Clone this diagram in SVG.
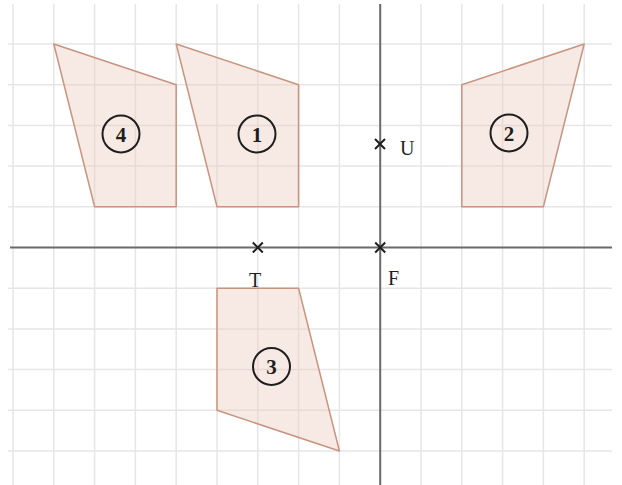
<svg xmlns="http://www.w3.org/2000/svg" width="622" height="485" viewBox="0 0 622 485">
<style>
.grid line{stroke:#e6e6e6;stroke-width:1.5}
.axis{stroke:#6a6a6a;stroke-width:2}
.shape{fill:#ebcbbf;fill-opacity:0.42;stroke:#c79580;stroke-width:1.5;stroke-linejoin:round}
.ring{fill:none;stroke:#1e1e1e;stroke-width:2}
.num{font-family:"Liberation Serif",serif;font-weight:bold;font-size:21px;fill:#1e1e1e;text-anchor:middle}
.lbl{font-family:"Liberation Serif",serif;font-size:20px;fill:#1e1e1e}
.cross{stroke:#1e1e1e;stroke-width:2}
</style>
<rect width="622" height="485" fill="#ffffff"/>
<g class="grid">
<line x1="13" y1="4" x2="13" y2="485"/>
<line x1="53.8" y1="4" x2="53.8" y2="485"/>
<line x1="94.6" y1="4" x2="94.6" y2="485"/>
<line x1="135.4" y1="4" x2="135.4" y2="485"/>
<line x1="176.2" y1="4" x2="176.2" y2="485"/>
<line x1="217" y1="4" x2="217" y2="485"/>
<line x1="257.8" y1="4" x2="257.8" y2="485"/>
<line x1="298.6" y1="4" x2="298.6" y2="485"/>
<line x1="339.4" y1="4" x2="339.4" y2="485"/>
<line x1="421" y1="4" x2="421" y2="485"/>
<line x1="461.8" y1="4" x2="461.8" y2="485"/>
<line x1="502.6" y1="4" x2="502.6" y2="485"/>
<line x1="543.4" y1="4" x2="543.4" y2="485"/>
<line x1="584.2" y1="4" x2="584.2" y2="485"/>
<line x1="8" y1="44" x2="612" y2="44"/>
<line x1="8" y1="84.7" x2="612" y2="84.7"/>
<line x1="8" y1="125.4" x2="612" y2="125.4"/>
<line x1="8" y1="166.1" x2="612" y2="166.1"/>
<line x1="8" y1="206.8" x2="612" y2="206.8"/>
<line x1="8" y1="288.2" x2="612" y2="288.2"/>
<line x1="8" y1="328.9" x2="612" y2="328.9"/>
<line x1="8" y1="369.6" x2="612" y2="369.6"/>
<line x1="8" y1="410.3" x2="612" y2="410.3"/>
<line x1="8" y1="451" x2="612" y2="451"/>
</g>
<g id="axes">
<line class="axis" x1="10" y1="247.5" x2="612" y2="247.5"/>
<line class="axis" x1="380.2" y1="4" x2="380.2" y2="485"/>
</g>
<g id="shape4">
<polygon class="shape" points="53.8,44 176.2,84.7 176.2,206.8 94.6,206.8"/>
<circle class="ring" cx="121" cy="134" r="18.5"/>
<text class="num" x="121" y="141.5">4</text>
</g>
<g id="shape1">
<polygon class="shape" points="176.2,44 298.6,84.7 298.6,206.8 217,206.8"/>
<circle class="ring" cx="257" cy="134" r="18.5"/>
<text class="num" x="257" y="141.5">1</text>
</g>
<g id="shape2">
<polygon class="shape" points="461.8,84.7 584.2,44 543.4,206.8 461.8,206.8"/>
<circle class="ring" cx="509" cy="133" r="18.5"/>
<text class="num" x="509" y="140.5">2</text>
</g>
<g id="shape3">
<polygon class="shape" points="217,288.2 298.6,288.2 339.4,451 217,410.3"/>
<circle class="ring" cx="271.5" cy="366.5" r="18.5"/>
<text class="num" x="271.5" y="374">3</text>
</g>
<g id="pointU">
<path class="cross" d="M375,139 L385,149 M385,139 L375,149"/>
<text class="lbl" x="400" y="155">U</text>
</g>
<g id="pointT">
<path class="cross" d="M252.8,242.5 L262.8,252.5 M262.8,242.5 L252.8,252.5"/>
<text class="lbl" x="255" y="287" text-anchor="middle">T</text>
</g>
<g id="pointF">
<path class="cross" d="M375.2,242.5 L385.2,252.5 M385.2,242.5 L375.2,252.5"/>
<text class="lbl" x="388" y="285">F</text>
</g>
</svg>
